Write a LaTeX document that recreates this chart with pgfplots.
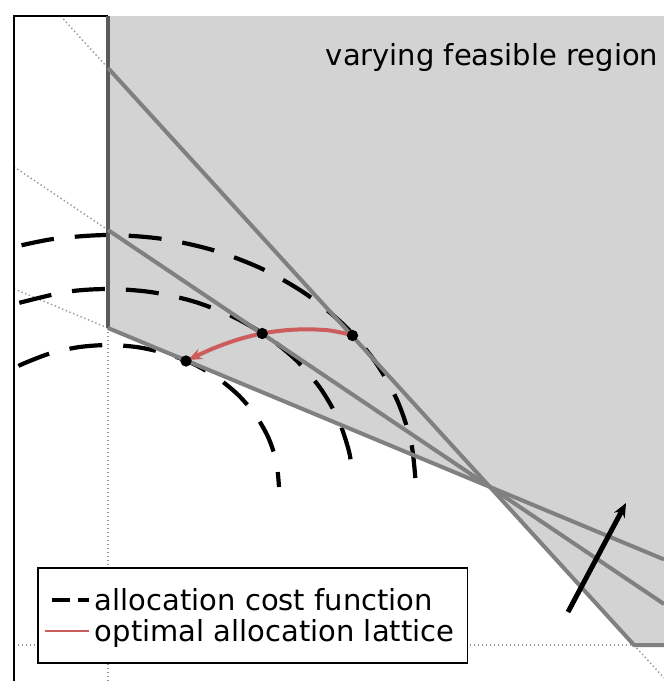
\documentclass[border=0pt]{standalone}
\usepackage{fontspec}
\setmainfont{DejaVu Sans}
\usepackage{pgfplots}
\pgfplotsset{compat=1.18}
\usetikzlibrary{arrows.meta}
\definecolor{feas}{RGB}{211,211,211}
\definecolor{edge}{RGB}{128,128,128}
\definecolor{edgedark}{RGB}{90,90,90}
\definecolor{dotg}{RGB}{150,150,150}
\definecolor{lat}{RGB}{205,92,92}
\begin{document}
\begin{tikzpicture}
\begin{axis}[
  scale only axis, width=332pt, height=340.5pt,
  xmin=0, xmax=664, ymin=0, ymax=681, y dir=reverse,
  hide axis, clip=true,
  legend cell align=left,
  legend style={at={(axis cs:37,567)}, anchor=north west, draw=black,
    line width=0.75pt, fill=white, inner xsep=2.5pt, inner ysep=8.25pt,
    row sep=0pt, column sep=2pt,
    font=\fontsize{14.5pt}{17pt}\selectfont,
    nodes={inner sep=0pt, text height=13pt, text depth=2.5pt}},
]
% bounding box
\addplot[draw=none, forget plot] coordinates {(0,0) (664,681)};
% feasible region
\addplot[fill=feas, draw=none, forget plot] coordinates {(108,16) (664,16) (664,645) (634,645) (490,487) (108,328)} -- cycle;
% dotted extensions
\addplot[dotg, line width=0.7pt, dash pattern=on 0.7pt off 1.3pt, forget plot] coordinates {(60.6,16) (108,68)};
\addplot[dotg, line width=0.7pt, dash pattern=on 0.7pt off 1.3pt, forget plot] coordinates {(14,166.8) (108,230)};
\addplot[dotg, line width=0.7pt, dash pattern=on 0.7pt off 1.3pt, forget plot] coordinates {(14,288.9) (108,328)};
\addplot[dotg, line width=0.7pt, dash pattern=on 0.7pt off 1.3pt, forget plot] coordinates {(108,328) (108,681)};
\addplot[dotg, line width=0.7pt, dash pattern=on 0.7pt off 1.3pt, forget plot] coordinates {(14,645) (634,645)};
\addplot[dotg, line width=0.7pt, dash pattern=on 0.7pt off 1.3pt, forget plot] coordinates {(634,645) (664,678)};
% spines
\addplot[black, line width=0.8pt, forget plot] coordinates {(108,16) (14,16) (14,681)};
% cost function arcs
\addplot[black, line width=2.1pt, smooth, dash pattern=on 16.5pt off 10.5pt, dash phase=22.5pt,
  legend image code/.code={\draw[black, line width=2.1pt, dash pattern=on 9pt off 4pt] (0pt,0pt) -- (22pt,0pt);}]
  coordinates {(416,487) (411.3,443.3) (397.4,400.8) (374.7,361.0) (343.9,325.0) (306.0,294.0) (262.0,268.8) (213.3,250.2) (161.5,238.8) (108,235) (54.5,238.8) (14,247.0)};
\addlegendentry{allocation cost function}
\addplot[black, line width=2.1pt, smooth, dash pattern=on 16.5pt off 10.5pt, dash phase=16.5pt, forget plot]
  coordinates {(352.9,480.1) (349.3,452.6) (338.2,419.3) (320.2,388.0) (295.7,359.7) (265.5,335.3) (230.5,315.5) (191.8,300.9) (150.5,292.0) (108,289) (65.5,292.0) (14,304.2)};
\addplot[black, line width=2.1pt, smooth, dash pattern=on 16.5pt off 10.5pt, dash phase=9pt, forget plot]
  coordinates {(279,487) (276.4,462.3) (268.7,438.4) (256.1,416.0) (239.0,395.7) (217.9,378.2) (193.5,364.0) (166.5,353.6) (137.7,347.2) (108,345) (78.3,347.2) (49.5,353.6) (22.5,364.0) (14,368.4)};
% constraint lines
\addplot[edgedark, line width=2pt, forget plot] coordinates {(108,16) (108,328)};
\addplot[edge, line width=2pt, forget plot] coordinates {(108,68) (634,645) (664,645)};
\addplot[edge, line width=2pt, forget plot] coordinates {(108,230) (664,604)};
\addplot[edge, line width=2pt, forget plot] coordinates {(108,328) (664,559.4)};
% optimal points
\addplot[only marks, mark=*, mark size=2.6pt, black, forget plot] coordinates {(352.5,335.5) (262.2,333.5) (186,361)};
% lattice arrow
\addplot[lat, line width=2pt, smooth, -{Stealth[length=7pt, width=5.5pt]},
  legend image code/.code={\draw[lat, line width=1.2pt, arrows=-] (0pt,0pt) -- (22pt,0pt);}]
  coordinates {(352,335) (330,330.5) (307,329.3) (285,330.3) (262,333.5) (238,339.5) (213,348.5) (188,360)};
\addlegendentry{optimal allocation lattice\rule{4pt}{0pt}}
% variation arrow
\addplot[black, line width=2.5pt, -{Stealth[length=7pt, width=6pt]}, forget plot] coordinates {(568,612) (626,503)};
\node[anchor=base, font=\fontsize{14.5pt}{17pt}\selectfont] at (axis cs:492,65) {varying feasible region};
\end{axis}
\end{tikzpicture}
\end{document}
